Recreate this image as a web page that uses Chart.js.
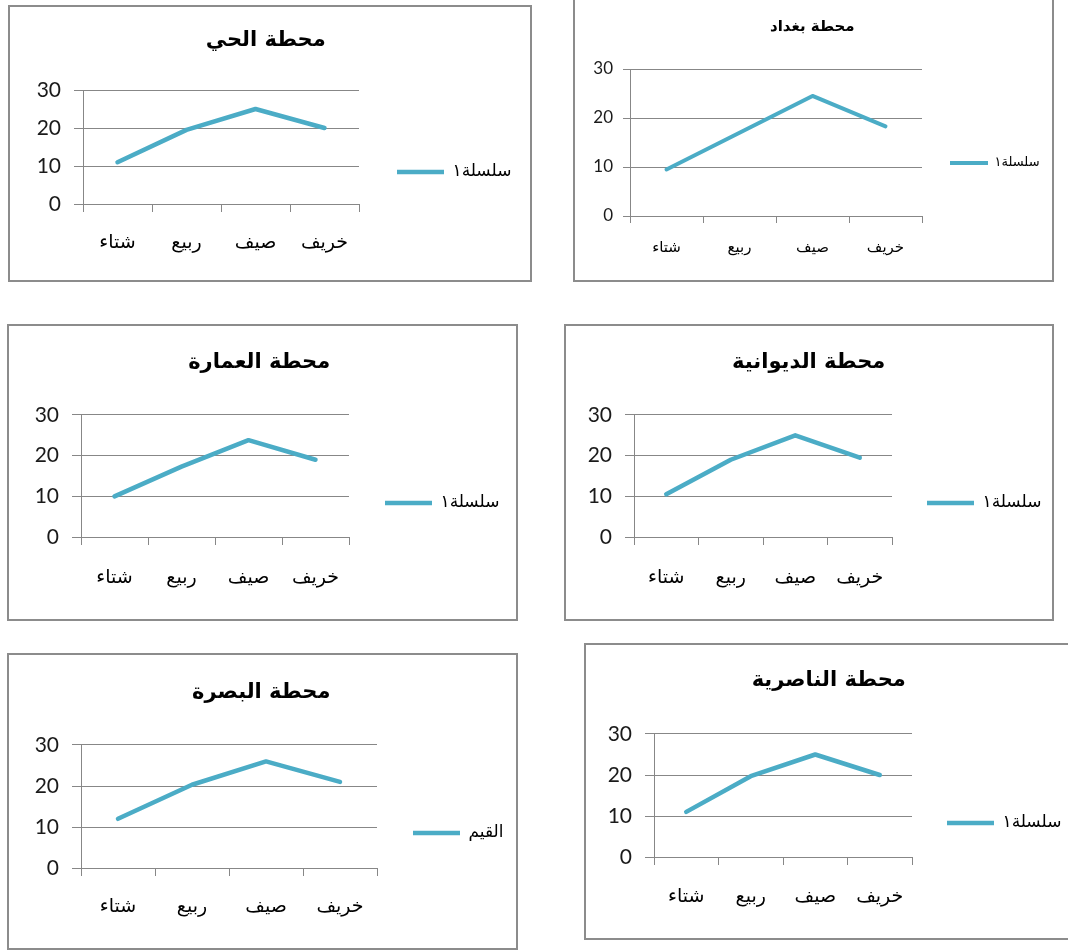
<!DOCTYPE html>
<html>
<head>
<meta charset="utf-8">
<script src="https://cdn.jsdelivr.net/npm/chart.js@4.4.0/dist/chart.umd.min.js"></script>
<style>
    body { margin: 0; background: #fff; width: 1068px; height: 951px; overflow: hidden; position: relative; }
    .box { position: absolute; border: 2px solid #8c8c8c; box-sizing: border-box; background: #fff; }
    .box canvas { position: absolute; left: 0; top: 0; }
</style>
</head>
<body>
<script>
// seasons on the x axis, stations in reading order
const seasons = ['شتاء', 'ربيع', 'صيف', 'خريف'];
const yTicks = [0, 10, 20, 30];
const stationTitles = ['محطة الحي', 'محطة بغداد', 'محطة العمارة', 'محطة الديوانية', 'محطة البصرة', 'محطة الناصرية'];
const seriesNames = ['سلسلة١', 'سلسلة١', 'سلسلة١', 'سلسلة١', 'القيم', 'سلسلة١'];

const hayValues = [11, 19.5, 25, 20];
const baghdadValues = [9.5, 17, 24.5, 18.3];
const amaraValues = [10, 17.3, 23.8, 19];
const diwaniyaValues = [10.5, 19, 25, 19.5];
const basraValues = [12, 20.3, 26, 21];
const nasiriyaValues = [11, 19.7, 25, 20];
const stationValues = [hayValues, baghdadValues, amaraValues, diwaniyaValues, basraValues, nasiriyaValues];

// page geometry (absolute px): box, plot area, title centre, legend start
const frames = [
    { box: [8, 5, 532, 282], plot: [83, 90, 359, 204], titleY: 41, labelY: 243, legendX: 397, legendY: 172, size: 'big' },
    { box: [573, -2, 1054, 282], plot: [630, 69, 922, 216], titleY: 27, labelY: 248, legendX: 950, legendY: 163, size: 'small' },
    { box: [7, 324, 518, 621], plot: [81, 415, 349, 537], titleY: 363, labelY: 578, legendX: 385, legendY: 503, size: 'big' },
    { box: [564, 324, 1054, 621], plot: [634, 415, 892, 537], titleY: 363, labelY: 578, legendX: 927, legendY: 503, size: 'big' },
    { box: [7, 653, 518, 950], plot: [81, 745, 377, 868], titleY: 693, labelY: 907, legendX: 413, legendY: 833, size: 'big' },
    { box: [584, 643, 1070, 940], plot: [654, 734, 912, 857], titleY: 681, labelY: 897, legendX: 947, legendY: 823, size: 'big' }
];
const styles = {
    big: { title: 21, ticks: 21, labels: 19, legend: 17, legendBox: 47, line: 4.5, yTick: 9, yPad: 13, xTick: 8 },
    small: { title: 15, ticks: 17, labels: 15, legend: 13, legendBox: 38, line: 4, yTick: 7, yPad: 10, xTick: 7 }
};

const LINE = '#4bacc6';
const GRID = '#878787';
const TEXT = '#1a1a1a';
const ARABIC = "'DejaVu Sans', sans-serif";
const DIGITS = "Lato, 'Open Sans', sans-serif";

const measureCtx = document.createElement('canvas').getContext('2d');
function textWidth(text, size) {
    measureCtx.font = `${size}px ${ARABIC}`;
    return measureCtx.measureText(text).width;
}

frames.forEach((f, i) => {
    const st = styles[f.size];
    const div = document.createElement('div');
    div.className = 'box';
    div.style.left = f.box[0] + 'px';
    div.style.top = f.box[1] + 'px';
    div.style.width = (f.box[2] - f.box[0]) + 'px';
    div.style.height = (f.box[3] - f.box[1]) + 'px';
    const canvas = document.createElement('canvas');
    div.appendChild(canvas);
    document.body.appendChild(div);

    const x0 = f.box[0] + 2, y0 = f.box[1] + 2;
    const cw = f.box[2] - f.box[0] - 4, ch = f.box[3] - f.box[1] - 4;
    canvas.width = cw;
    canvas.height = ch;
    canvas.style.width = cw + 'px';
    canvas.style.height = ch + 'px';

    const plotL = f.plot[0] - x0, plotT = f.plot[1] - y0;
    const plotR = f.plot[2] - x0, plotB = f.plot[3] - y0;

    const lh = st.title * 1.2;
    const titleTop = f.titleY - y0 - lh / 2;
    const titleBottom = plotT - titleTop - lh;

    // legend is full height, so its middle sits at (top + bottom) / 2
    const padBottom = ch - 2 * (f.legendY - y0);
    const xHeight = ch - padBottom - plotB;

    const legendPad = f.legendX - f.plot[2];
    const legendW = legendPad + st.legendBox + st.legend / 2 + textWidth(seriesNames[i], st.legend) + 10;
    const padRight = cw - plotR - legendW;

    const xLabelPad = f.labelY - f.plot[3] - st.xTick - st.labels * 0.6;

    new Chart(canvas, {
        type: 'line',
        data: {
            labels: seasons,
            datasets: [{
                label: seriesNames[i],
                data: stationValues[i],
                borderColor: LINE,
                backgroundColor: LINE,
                borderWidth: st.line,
                borderCapStyle: 'round',
                borderJoinStyle: 'round',
                pointRadius: 0,
                tension: 0,
                fill: false
            }]
        },
        options: {
            responsive: false,
            animation: false,
            events: [],
            layout: { padding: { top: 0, left: 0, right: padRight, bottom: padBottom } },
            plugins: {
                title: {
                    display: true,
                    text: stationTitles[i],
                    color: '#000',
                    font: { family: ARABIC, size: st.title, weight: 'bold' },
                    padding: { top: titleTop, bottom: titleBottom }
                },
                legend: {
                    display: true,
                    position: 'right',
                    maxWidth: 400,
                    labels: {
                        usePointStyle: true,
                        pointStyle: 'line',
                        pointStyleWidth: st.legendBox,
                        padding: legendPad,
                        color: '#000',
                        font: { family: ARABIC, size: st.legend }
                    }
                },
                tooltip: { enabled: false }
            },
            scales: {
                x: {
                    offset: true,
                    afterFit: s => { s.height = xHeight; },
                    grid: { offset: true, drawOnChartArea: false, drawTicks: true, tickLength: st.xTick, color: GRID },
                    border: { display: true, color: GRID },
                    ticks: { color: '#000', padding: xLabelPad, maxRotation: 0, font: { family: ARABIC, size: st.labels } }
                },
                y: {
                    min: 0,
                    max: 30,
                    afterFit: s => { s.width = plotL; },
                    afterBuildTicks: s => { s.ticks = yTicks.map(v => ({ value: v })); },
                    grid: { color: GRID, tickLength: st.yTick },
                    border: { display: true, color: GRID },
                    ticks: { color: TEXT, padding: st.yPad, font: { family: DIGITS, size: st.ticks } }
                }
            }
        }
    });
});
</script>
</body>
</html>
